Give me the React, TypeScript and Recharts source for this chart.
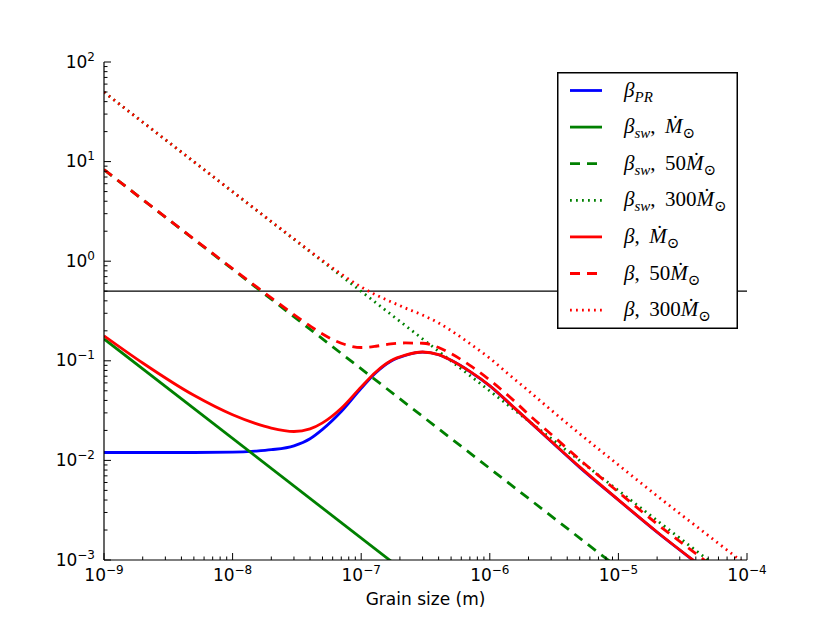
import { LineChart, Line, XAxis, YAxis, ReferenceLine, Legend } from 'recharts';

const grainSize = [
  1e-9, 2e-9, 5e-9, 1e-8, 1.5e-8, 2e-8, 3e-8, 4e-8, 5e-8, 7e-8, 1e-7, 1.3e-7, 1.7e-7, 2.2e-7,
  3e-7, 4e-7, 5e-7, 7e-7, 1e-6, 1.5e-6, 2e-6, 3e-6, 5e-6, 1e-5, 2e-5, 5e-5, 1e-4,
];
const betaPR = [
  0.012, 0.012, 0.012, 0.0121, 0.0124, 0.0128, 0.014, 0.0165, 0.0205, 0.031, 0.053, 0.076, 0.099,
  0.113, 0.122, 0.115, 0.101, 0.078, 0.056, 0.035, 0.025, 0.0155, 0.0085, 0.004, 0.0019, 0.00076,
  0.00038,
];
const betaSun = [
  0.178, 0.095, 0.045, 0.0287, 0.0235, 0.0211, 0.0195, 0.0207, 0.0238, 0.0334, 0.0547, 0.0773,
  0.1, 0.1138, 0.1226, 0.1154, 0.1013, 0.0782, 0.0562, 0.0351, 0.0251, 0.0156, 0.0086, 0.00402,
  0.00191, 0.00076, 0.00038,
];
const beta50 = [
  8.31, 4.16, 1.672, 0.842, 0.566, 0.428, 0.291, 0.224, 0.186, 0.15, 0.136, 0.14, 0.148, 0.151,
  0.15, 0.136, 0.118, 0.09, 0.064, 0.041, 0.029, 0.0183, 0.0102, 0.0048, 0.0023, 0.00093, 0.00046,
];
const beta300 = [
  49.8, 24.9, 9.97, 4.99, 3.33, 2.5, 1.674, 1.261, 1.016, 0.742, 0.551, 0.459, 0.392, 0.339, 0.288,
  0.24, 0.201, 0.149, 0.106, 0.068, 0.05, 0.032, 0.0185, 0.009, 0.0044, 0.00176, 0.00088,
];

// solar-wind terms are straight lines in log-log, read at both ends of the axis
const swEnds = [1e-9, 1e-4];
const betaSw1 = [0.166, 1.66e-6];
const betaSw50 = [8.3, 8.3e-5];
const betaSw300 = [49.8, 4.98e-4];

const halfBeta = 0.5;

const xDecades = [-9, -8, -7, -6, -5, -4];
const yDecades = [-3, -2, -1, 0, 1, 2];
const minorSteps = [2, 3, 4, 5, 6, 7, 8, 9];

const BLUE = '#0000ff';
const GREEN = '#008000';
const RED = '#ff0000';
const DASH = '10 7';
const DOT = '1.8 4.2';

function logTicks(decades: number[]) {
  const out: number[] = [];
  decades.forEach((d, i) => {
    out.push(Number(`1e${d}`));
    if (i < decades.length - 1) minorSteps.forEach((m) => out.push(Number(`${m}e${d}`)));
  });
  return out;
}

const xTicks = logTicks(xDecades);
const yTicks = logTicks(yDecades);

const toRows = (xs: number[], ys: number[]) => xs.map((x, i) => ({ x, y: ys[i] }));

const series = [
  { id: 'pr', data: toRows(grainSize, betaPR), color: BLUE, dash: undefined, curve: 'monotone' },
  { id: 'sw1', data: toRows(swEnds, betaSw1), color: GREEN, dash: undefined, curve: 'linear' },
  { id: 'sw50', data: toRows(swEnds, betaSw50), color: GREEN, dash: DASH, curve: 'linear' },
  { id: 'sw300', data: toRows(swEnds, betaSw300), color: GREEN, dash: DOT, curve: 'linear' },
  { id: 'b1', data: toRows(grainSize, betaSun), color: RED, dash: undefined, curve: 'monotone' },
  { id: 'b50', data: toRows(grainSize, beta50), color: RED, dash: DASH, curve: 'monotone' },
  { id: 'b300', data: toRows(grainSize, beta300), color: RED, dash: DOT, curve: 'monotone' },
];

const SUB = 5;
const SUB_SIZE = 15;
const SEP = ', \u2009';

function Mdot({ factor }: { factor?: string }) {
  return (
    <>
      {factor ? <tspan>{factor}</tspan> : null}
      <tspan fontStyle="italic">Ṁ</tspan>
      <tspan dy={SUB} fontSize={SUB_SIZE}>⊙</tspan>
    </>
  );
}

function legendLabel(id: string) {
  const beta = <tspan fontStyle="italic">β</tspan>;
  const comma = <tspan>{SEP}</tspan>;
  const sw = (
    <>
      {beta}
      <tspan dy={SUB} fontSize={SUB_SIZE} fontStyle="italic">sw</tspan>
      <tspan dy={-SUB}>{SEP}</tspan>
    </>
  );
  switch (id) {
    case 'pr':
      return (
        <>
          {beta}
          <tspan dy={SUB} fontSize={SUB_SIZE} fontStyle="italic">PR</tspan>
        </>
      );
    case 'sw1':
      return <>{sw}<Mdot /></>;
    case 'sw50':
      return <>{sw}<Mdot factor="50" /></>;
    case 'sw300':
      return <>{sw}<Mdot factor="300" /></>;
    case 'b1':
      return <>{beta}{comma}<Mdot /></>;
    case 'b50':
      return <>{beta}{comma}<Mdot factor="50" /></>;
    default:
      return <>{beta}{comma}<Mdot factor="300" /></>;
  }
}

function LegendBox() {
  const w = 181;
  const h = 257;
  return (
    <svg width={w} height={h} style={{ display: 'block' }}>
      <rect x={0.75} y={0.75} width={w - 1.5} height={h - 1.5} fill="#fff" stroke="#000" strokeWidth={1.5} />
      {series.map((s, i) => {
        const cy = 18.5 + i * 36.6;
        return (
          <g key={s.id}>
            <line x1={13} x2={45} y1={cy} y2={cy} stroke={s.color} strokeWidth={2.8} strokeDasharray={s.dash} />
            <text
              x={67}
              y={cy + 6}
              fontSize={21}
              fontFamily="Liberation Serif, DejaVu Serif, serif"
              fill="#000"
              style={{ whiteSpace: 'pre' }}
            >
              {legendLabel(s.id)}
            </text>
          </g>
        );
      })}
    </svg>
  );
}

const isMajor = (v: number) => {
  const e = Math.log10(v);
  return Math.abs(e - Math.round(e)) < 1e-6;
};

function PowerLabel({ x, y, v, anchor }: { x: number; y: number; v: number; anchor: string }) {
  const e = Math.round(Math.log10(v));
  return (
    <text x={x} y={y} textAnchor={anchor} fontSize={17} fontFamily="DejaVu Sans" fill="#000">
      <tspan>10</tspan>
      <tspan dy={-7} fontSize={12}>{e < 0 ? `−${-e}` : `${e}`}</tspan>
    </text>
  );
}

function AxisTick(props: any) {
  const { x, y, payload, side } = props;
  const v = payload.value;
  const major = isMajor(v);
  const len = major ? 7 : 3.5;
  const st = { stroke: '#000', strokeWidth: 1 };
  if (side === 'bottom') {
    return (
      <g>
        <line x1={x} x2={x} y1={y} y2={y - len} {...st} />
        {major ? <PowerLabel x={x} y={y + 21} v={v} anchor="middle" /> : null}
      </g>
    );
  }
  if (side === 'top') return <line x1={x} x2={x} y1={y} y2={y + len} {...st} />;
  if (side === 'left') {
    return (
      <g>
        <line x1={x} x2={x + len} y1={y} y2={y} {...st} />
        {major ? <PowerLabel x={x - 9} y={y + 5.5} v={v} anchor="end" /> : null}
      </g>
    );
  }
  return <line x1={x} x2={x - len} y1={y} y2={y} {...st} />;
}

const frame = { stroke: '#000', strokeWidth: 1.2 };

export default function App() {
  return (
    <div style={{ position: 'absolute', left: 0, top: 0, background: '#fff' }}>
      <LineChart width={830} height={623} margin={{ top: 62, right: 83, bottom: 0, left: 0 }}>
        <XAxis
          xAxisId="b"
          dataKey="x"
          type="number"
          scale="log"
          domain={[1e-9, 1e-4]}
          allowDataOverflow
          ticks={xTicks}
          interval={0}
          height={63}
          tickSize={0}
          tickMargin={0}
          tickLine={false}
          axisLine={frame}
          tick={(p: any) => <AxisTick {...p} side="bottom" />}
          label={(p: any) => (
            <text
              x={p.viewBox.x + p.viewBox.width / 2}
              y={p.viewBox.y + 45}
              textAnchor="middle"
              fontSize={17}
              fontFamily="DejaVu Sans"
              fill="#000"
            >
              Grain size (m)
            </text>
          )}
        />
        <XAxis
          xAxisId="t"
          orientation="top"
          dataKey="x"
          type="number"
          scale="log"
          domain={[1e-9, 1e-4]}
          allowDataOverflow
          ticks={xTicks}
          interval={0}
          height={0}
          tickSize={0}
          tickMargin={0}
          tickLine={false}
          axisLine={frame}
          tick={(p: any) => <AxisTick {...p} side="top" />}
        />
        <YAxis
          yAxisId="l"
          type="number"
          scale="log"
          domain={[1e-3, 1e2]}
          allowDataOverflow
          ticks={yTicks}
          interval={0}
          width={104}
          tickSize={0}
          tickMargin={0}
          tickLine={false}
          axisLine={frame}
          tick={(p: any) => <AxisTick {...p} side="left" />}
        />
        <YAxis
          yAxisId="r"
          orientation="right"
          type="number"
          scale="log"
          domain={[1e-3, 1e2]}
          allowDataOverflow
          ticks={yTicks}
          interval={0}
          width={0}
          tickSize={0}
          tickMargin={0}
          tickLine={false}
          axisLine={frame}
          tick={(p: any) => <AxisTick {...p} side="right" />}
        />
        <ReferenceLine xAxisId="b" yAxisId="l" y={halfBeta} stroke="#000" strokeWidth={1.3} />
        {series.map((s) => (
          <Line
            key={s.id}
            name={s.id}
            xAxisId="b"
            yAxisId="l"
            data={s.data}
            dataKey="y"
            type={s.curve as any}
            stroke={s.color}
            strokeWidth={2.8}
            strokeDasharray={s.dash}
            dot={false}
            activeDot={false}
            isAnimationActive={false}
          />
        ))}
        <Legend
          layout="vertical"
          align="center"
          verticalAlign="middle"
          wrapperStyle={{ left: 557, top: 72, width: 181, height: 257 }}
          content={() => <LegendBox />}
        />
      </LineChart>
    </div>
  );
}
